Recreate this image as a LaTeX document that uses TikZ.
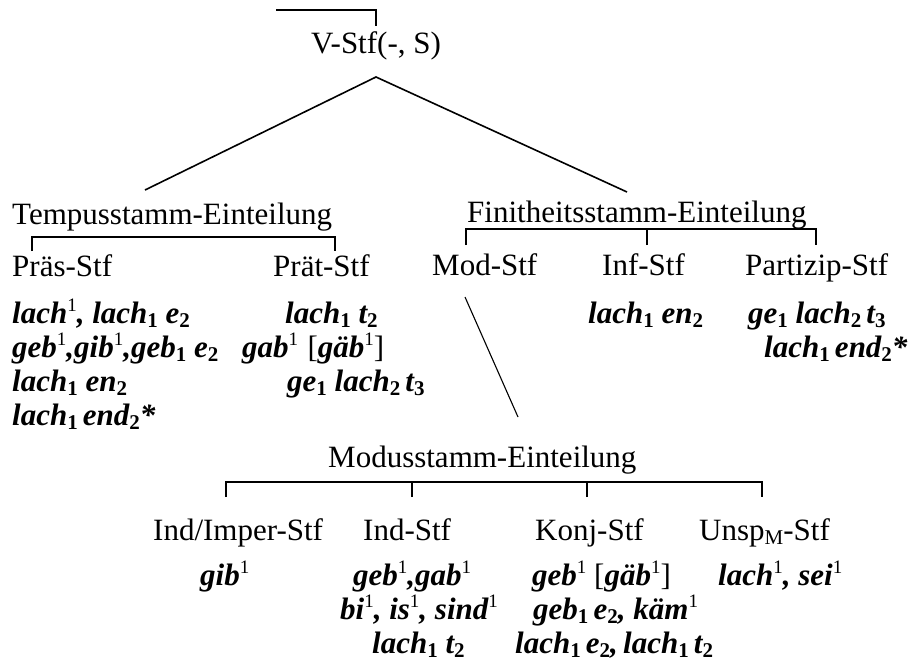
\documentclass[tikz,border=0pt]{standalone}
\usepackage{fontspec}
\setmainfont{Liberation Serif}
\usetikzlibrary{calc}
% raised and lowered indices for the stem forms
\newcommand\supx[1]{\raisebox{0.8ex}{\fontsize{19}{19}\selectfont\upshape\mdseries#1}}
\newcommand\subx[1]{\raisebox{-0.35ex}{\fontsize{21}{21}\selectfont\upshape#1}}
\newcommand\brkt[1]{{\upshape\mdseries[}#1{\upshape\mdseries]}}
\tikzset{
  lbl/.style={inner sep=0pt, anchor=base west, font=\fontsize{31}{36}\selectfont},
  form/.style={lbl, font=\fontsize{31}{36}\selectfont\bfseries\itshape},
  arm/.style={line width=1.6pt},
  brk/.style={line width=1.1pt},
}
\begin{document}
\begin{tikzpicture}[x=1pt,y=-1pt]
\useasboundingbox (0,0) rectangle (908,665);

% root
\node[lbl, anchor=base] (root) at (376,53) {V-Stf(-, S)};
\coordinate (topL) at (276,10);
\coordinate (topR) at (376,10);
\coordinate (topD) at (376,26);
\draw[brk] (topL) -- (topR) -- (topD);

% main split
\coordinate (apex) at (376,77);
\coordinate (tempTop) at (145,190);
\coordinate (finTop) at (627,192);
\draw[arm] (tempTop) -- (apex) -- (finTop);

% tense stems
\node[lbl] (temp) at (12,224) {Tempusstamm-Einteilung};
\coordinate (tA) at (32,251);
\coordinate (tB) at (335,251);
\draw[brk] (tA) -- ++(0,-14) -- ($(tB)+(0,-14)$) -- (tB);
\node[lbl] (praes) at (12,276) {Präs-Stf};
\node[lbl] (praet) at (273,276) {Prät-Stf};
\node[form] (p1) at (12,323) {lach\supx{1}, lach\subx{1} e\subx{2}};
\node[form] (p2) at (12,357) {geb\supx{1},gib\supx{1},geb\subx{1} e\subx{2}};
\node[form] (p3) at (12,391) {lach\subx{1} en\subx{2}};
\node[form] (p4) at (12,425) {lach\subx{1}\,end\subx{2}*};
\node[form] (q1) at (285,323) {lach\subx{1} t\subx{2}};
\node[form] (q2) at (242,357) {gab\supx{1}\hspace{0.3em}\brkt{gäb\supx{1}}};
\node[form] (q3) at (287,391) {ge\subx{1} lach\subx{2}\,t\subx{3}};

% finiteness stems
\node[lbl] (fin) at (467,222) {Finitheitsstamm-Einteilung};
\coordinate (fA) at (466,245);
\coordinate (fB) at (647,245);
\coordinate (fC) at (816,245);
\draw[brk] (fA) -- ++(0,-16) -- ($(fC)+(0,-16)$) -- (fC);
\draw[brk] (fB) -- ++(0,-16);
\node[lbl] (mod) at (432,275) {Mod-Stf};
\node[lbl] (inf) at (602,275) {Inf-Stf};
\node[lbl] (part) at (745,275) {Partizip-Stf};
\node[form] (i1) at (588,323) {lach\subx{1} en\subx{2}};
\node[form] (r1) at (748,323) {ge\subx{1} lach\subx{2}\,t\subx{3}};
\node[form] (r2) at (764,357) {lach\subx{1}\,end\subx{2}*};

% mood stems
\coordinate (modBot) at (465,297);
\coordinate (modusTop) at (518,417);
\draw[brk] (modBot) -- (modusTop);
\node[lbl] (modus) at (328,467) {Modusstamm-Einteilung};
\coordinate (mA) at (226,497);
\coordinate (mB) at (412,497);
\coordinate (mC) at (587,497);
\coordinate (mD) at (762,497);
\draw[brk] (mA) -- ++(0,-15) -- ($(mD)+(0,-15)$) -- (mD);
\draw[brk] (mB) -- ++(0,-15);
\draw[brk] (mC) -- ++(0,-15);
\node[lbl] (indimp) at (153,540) {Ind/Imper-Stf};
\node[lbl] (ind) at (363,540) {Ind-Stf};
\node[lbl] (konj) at (535,540) {Konj-Stf};
\node[lbl] (unsp) at (699,540) {Unsp\subx{M}-Stf};
\node[form] (a1) at (200,585) {gib\supx{1}};
\node[form] (b1) at (353,585) {geb\supx{1},gab\supx{1}};
\node[form] (b2) at (340,619) {bi\supx{1}, is\supx{1}, sind\supx{1}};
\node[form] (b3) at (372,653) {lach\subx{1} t\subx{2}};
\node[form] (c1) at (532,585) {geb\supx{1} \brkt{gäb\supx{1}}};
\node[form] (c2) at (533,619) {geb\subx{1}\,e\subx{2}, käm\supx{1}};
\node[form] (c3) at (515,653) {lach\subx{1}\,e\subx{2},\,lach\subx{1}\,t\subx{2}};
\node[form] (d1) at (718,585) {lach\supx{1}, sei\supx{1}};
\end{tikzpicture}
\end{document}
